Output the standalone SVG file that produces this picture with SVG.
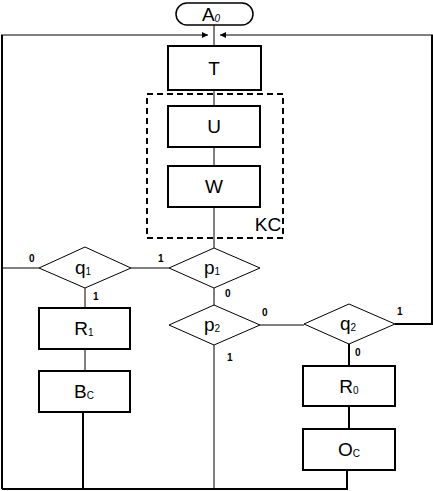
<svg xmlns="http://www.w3.org/2000/svg" width="433" height="491" viewBox="0 0 433 491">
<style>
.box{fill:#fff;stroke:#000;stroke-width:2}
.dia{fill:#fff;stroke:#000;stroke-width:1}
.ln{fill:none;stroke:#000;stroke-width:1}
.thk{fill:none;stroke:#000;stroke-width:2}
.t{font-family:"Liberation Sans",Arial,sans-serif;font-size:19px;fill:#000;text-anchor:middle}
.s{font-size:10px}
.lb{font-family:"Liberation Sans",Arial,sans-serif;font-size:10px;font-weight:bold;fill:#000}
</style>
<defs>
<marker id="ar" markerWidth="6" markerHeight="6" refX="6" refY="3" orient="auto" markerUnits="userSpaceOnUse">
<path d="M0,0 L6,3 L0,6 Z" fill="#000"/>
</marker>
</defs>
<g id="connectors">
<line class="ln" x1="214" y1="25" x2="214" y2="46"/>
<line class="thk" x1="2" y1="489" x2="2" y2="35"/>
<line class="ln" x1="1" y1="35" x2="208" y2="35" marker-end="url(#ar)"/>
<polyline class="thk" points="395,324 432,324 432,35"/>
<line class="ln" x1="433" y1="35" x2="220" y2="35" marker-end="url(#ar)"/>
<line class="ln" x1="214" y1="90" x2="214" y2="106"/>
<line class="ln" x1="214" y1="147" x2="214" y2="166"/>
<line class="ln" x1="214" y1="207" x2="214" y2="248"/>
<line class="ln" x1="2" y1="268" x2="39" y2="268"/>
<line class="ln" x1="131" y1="268" x2="169" y2="268"/>
<line class="ln" x1="214" y1="288" x2="214" y2="305"/>
<line class="ln" x1="85" y1="288" x2="85" y2="308"/>
<line class="ln" x1="85" y1="349" x2="85" y2="371"/>
<line class="thk" x1="83" y1="412" x2="83" y2="489"/>
<line class="ln" x1="214" y1="345" x2="214" y2="489"/>
<line class="ln" x1="260" y1="325" x2="304" y2="325"/>
<line class="thk" x1="349" y1="344" x2="349" y2="366"/>
<line class="thk" x1="349" y1="406" x2="349" y2="429"/>
<line class="thk" x1="347" y1="470" x2="347" y2="489"/>
<line class="thk" x1="2" y1="489" x2="348" y2="489"/>
</g>
<g id="KC">
<rect x="147" y="94" width="136" height="144" fill="none" stroke="#000" stroke-width="2" stroke-dasharray="6,4"/>
<text class="t" x="268" y="231">KC</text>
</g>
<g id="A0">
<rect x="176" y="3" width="77" height="22" rx="11" fill="#fff" stroke="#000" stroke-width="1.5"/>
<text class="t" x="211" y="21">A<tspan class="s" font-style="italic" dy="1">0</tspan></text>
</g>
<g id="T">
<rect class="box" x="168" y="46" width="93" height="44"/>
<text class="t" x="214" y="75">T</text>
</g>
<g id="U">
<rect class="box" x="168" y="106" width="92" height="41"/>
<text class="t" x="214" y="133">U</text>
</g>
<g id="W">
<rect class="box" x="168" y="166" width="92" height="41"/>
<text class="t" x="214" y="193">W</text>
</g>
<g id="q1">
<polygon class="dia" points="39,268 85,247 131,268 85,288"/>
<text class="t" x="83" y="274">q<tspan class="s" dy="1">1</tspan></text>
<text class="lb" x="29" y="262">0</text>
<text class="lb" x="93" y="300">1</text>
</g>
<g id="p1">
<polygon class="dia" points="169,268 214,248 260,268 214,288"/>
<text class="t" x="212" y="274">p<tspan class="s" dy="1">1</tspan></text>
<text class="lb" x="158" y="262">1</text>
<text class="lb" x="225" y="297">0</text>
</g>
<g id="p2">
<polygon class="dia" points="169,325 214,305 260,325 214,345"/>
<text class="t" x="212" y="331">p<tspan class="s" dy="1">2</tspan></text>
<text class="lb" x="262" y="316">0</text>
<text class="lb" x="227" y="361">1</text>
</g>
<g id="q2">
<polygon class="dia" points="304,324 349,304 395,324 349,344"/>
<text class="t" x="348" y="330">q<tspan class="s" dy="1">2</tspan></text>
<text class="lb" x="397" y="315">1</text>
<text class="lb" x="355" y="356">0</text>
</g>
<g id="R1">
<rect class="box" x="39" y="308" width="91" height="41"/>
<text class="t" x="84" y="335">R<tspan class="s" dy="1">1</tspan></text>
</g>
<g id="Bc">
<rect class="box" x="39" y="371" width="91" height="41"/>
<text class="t" x="84" y="398">B<tspan class="s" dy="1">C</tspan></text>
</g>
<g id="R0">
<rect class="box" x="303" y="366" width="92" height="40"/>
<text class="t" x="349" y="393">R<tspan class="s" dy="1">0</tspan></text>
</g>
<g id="Oc">
<rect class="box" x="303" y="429" width="92" height="41"/>
<text class="t" x="349" y="456">O<tspan class="s" dy="1">C</tspan></text>
</g>
</svg>
